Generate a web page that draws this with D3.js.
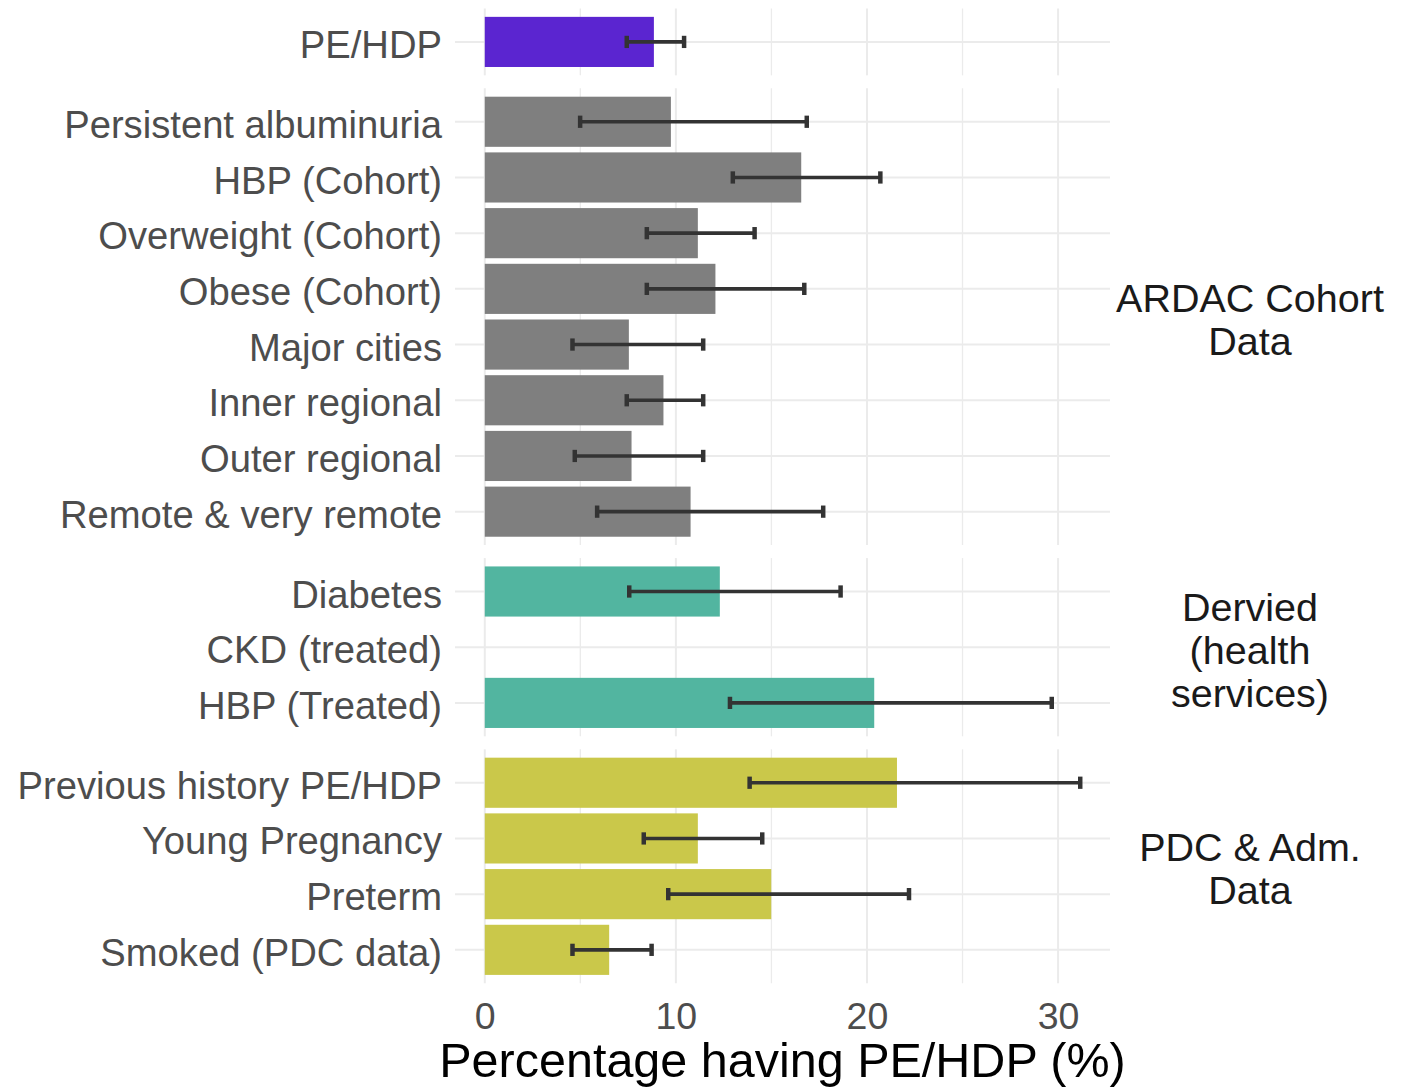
<!DOCTYPE html>
<html>
<head>
<meta charset="utf-8">
<script src="https://d3js.org/d3.v7.min.js"></script>
<style>
  body { margin: 0; background: #fff; }
  svg { font-family: "Liberation Sans", Arial, sans-serif; }
</style>
</head>
<body>
<svg width="1408" height="1087"></svg>

<script>
// values
var categories = ["PE/HDP",
  "Persistent albuminuria", "HBP (Cohort)", "Overweight (Cohort)", "Obese (Cohort)",
  "Major cities", "Inner regional", "Outer regional", "Remote & very remote",
  "Diabetes", "CKD (treated)", "HBP (Treated)",
  "Previous history PE/HDP", "Young Pregnancy", "Preterm", "Smoked (PDC data)"];
var groups = [0, 1, 1, 1, 1, 1, 1, 1, 1, 2, 2, 2, 3, 3, 3, 3];
var pct   = [8.85, 9.74, 16.56, 11.15, 12.07, 7.54, 9.35, 7.68, 10.77, 12.3, null, 20.38, 21.57, 11.15, 14.99, 6.51];
var lower = [7.43, 4.99, 12.98, 8.48, 8.48, 4.59, 7.43, 4.71, 5.88, 7.56, null, 12.83, 13.86, 8.32, 9.6, 4.59];
var upper = [10.43, 16.85, 20.7, 14.12, 16.72, 11.43, 11.43, 11.43, 17.71, 18.62, null, 29.67, 31.16, 14.52, 22.2, 8.73];

var facetLabels = [[], ["ARDAC Cohort", "Data"], ["Dervied", "(health", "services)"], ["PDC & Adm.", "Data"]];
var facetColors = ["#5B25D0", "#7F7F7F", "#52B5A0", "#CAC84A"];
var xTicks = [0, 10, 20, 30];
var xMinor = [5, 15, 25];

var svg = d3.select("svg");

var panelLeft = 455, panelRight = 1110;
var unit = 55.7, gap = 13, top0 = 8.5;

var rows = categories.map(function(c, i) {
  return {name: c, group: groups[i], value: pct[i], lo: lower[i], hi: upper[i]};
});

// ggplot style 5% expansion
var maxVal = d3.max(rows, function(d) { return d.hi; });
var pad = maxVal * 0.05;
var x = d3.scaleLinear().domain([-pad, maxVal + pad]).range([panelLeft, panelRight]);

// one panel per group, height proportional to number of rows
var panels = [];
var y0 = top0;
facetLabels.forEach(function(lab, g) {
  var cats = rows.filter(function(d) { return d.group == g; }).map(function(d) { return d.name; });
  var h = (cats.length + 0.2) * unit;
  var y = d3.scalePoint().domain(cats).range([y0, y0 + h]).padding(0.6);
  panels.push({g: g, cats: cats, top: y0, bottom: y0 + h, y: y});
  y0 += h + gap;
});

var grid = svg.append("g");
panels.forEach(function(p) {
  grid.selectAll(null).data(xMinor).enter().append("line")
    .attr("x1", function(d) { return x(d); }).attr("x2", function(d) { return x(d); })
    .attr("y1", p.top).attr("y2", p.bottom)
    .attr("stroke", "#EBEBEB").attr("stroke-width", 1.3);
  grid.selectAll(null).data(xTicks).enter().append("line")
    .attr("x1", function(d) { return x(d); }).attr("x2", function(d) { return x(d); })
    .attr("y1", p.top).attr("y2", p.bottom)
    .attr("stroke", "#EBEBEB").attr("stroke-width", 2);
  grid.selectAll(null).data(p.cats).enter().append("line")
    .attr("x1", panelLeft).attr("x2", panelRight)
    .attr("y1", function(d) { return p.y(d); }).attr("y2", function(d) { return p.y(d); })
    .attr("stroke", "#EBEBEB").attr("stroke-width", 2);
});

function yOf(d) { return panels[d.group].y(d.name); }
function stepOf(d) { return panels[d.group].y.step(); }

var withVal = rows.filter(function(d) { return d.value != null; });

svg.append("g").selectAll("rect").data(withVal).enter().append("rect")
  .attr("x", x(0))
  .attr("width", function(d) { return x(d.value) - x(0); })
  .attr("y", function(d) { return yOf(d) - 0.45 * stepOf(d); })
  .attr("height", function(d) { return 0.9 * stepOf(d); })
  .attr("fill", function(d) { return facetColors[d.group]; });

var err = svg.append("g").attr("stroke", "#333333").attr("stroke-width", 3.6);
err.selectAll(".bar").data(withVal).enter().append("line")
  .attr("x1", function(d) { return x(d.lo); }).attr("x2", function(d) { return x(d.hi); })
  .attr("y1", yOf).attr("y2", yOf);
["lo", "hi"].forEach(function(k) {
  err.selectAll(".cap-" + k).data(withVal).enter().append("line")
    .attr("stroke-width", 4.5)
    .attr("x1", function(d) { return x(d[k]); }).attr("x2", function(d) { return x(d[k]); })
    .attr("y1", function(d) { return yOf(d) - 0.11 * stepOf(d); })
    .attr("y2", function(d) { return yOf(d) + 0.11 * stepOf(d); });
});

// category labels
svg.append("g").selectAll("text").data(rows).enter().append("text")
  .attr("x", 442)
  .attr("y", yOf)
  .attr("dy", "0.42em")
  .attr("text-anchor", "end")
  .attr("fill", "#4D4D4D")
  .style("font-size", "38.2px")
  .text(function(d) { return d.name; });

// strip labels on the right
panels.forEach(function(p) {
  var lines = facetLabels[p.g];
  var mid = (p.top + p.bottom) / 2;
  var lh = 43;
  svg.append("g").selectAll("text").data(lines).enter().append("text")
    .attr("x", 1250)
    .attr("y", function(d, i) { return mid + (i - (lines.length - 1) / 2) * lh; })
    .attr("dy", "0.42em")
    .attr("text-anchor", "middle")
    .attr("fill", "#1A1A1A")
    .style("font-size", "39.5px")
    .text(function(d) { return d; });
});

var axis = svg.append("g")
  .attr("transform", "translate(0," + panels[3].bottom + ")")
  .call(d3.axisBottom(x).tickValues(xTicks).tickSize(0).tickPadding(19));
axis.select(".domain").remove();
axis.selectAll("text")
  .attr("fill", "#4D4D4D")
  .style("font-size", "37.5px")
  .style("font-family", "'Liberation Sans', Arial, sans-serif");

svg.append("text")
  .attr("x", (panelLeft + panelRight) / 2)
  .attr("y", 1077)
  .attr("text-anchor", "middle")
  .attr("fill", "#000")
  .style("font-size", "48.5px")
  .text("Percentage having PE/HDP (%)");
</script>
</body>
</html>
